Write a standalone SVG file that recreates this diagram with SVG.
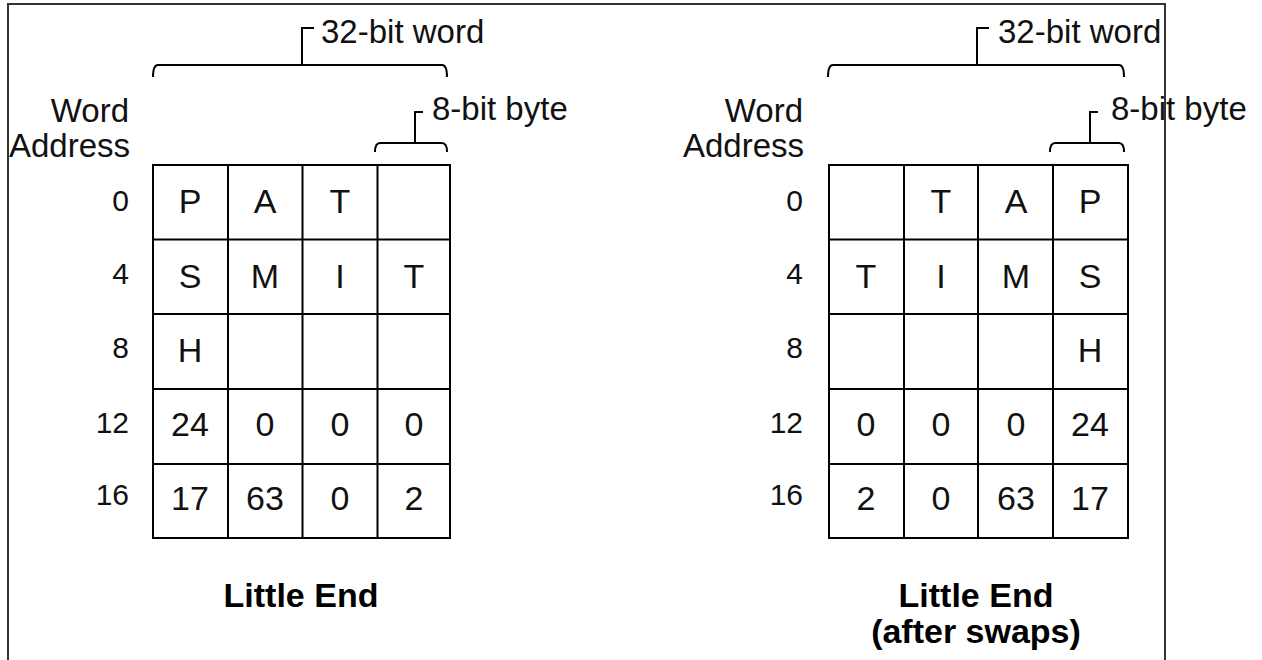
<svg xmlns="http://www.w3.org/2000/svg" width="1262" height="660" viewBox="0 0 1262 660">
<style>
.frame{stroke:#333;stroke-width:2;fill:none}
.grid{stroke:#000;stroke-width:2;fill:none}
.br{stroke:#000;stroke-width:2;fill:none}
.lbl{font-family:"Liberation Sans",Arial,sans-serif;font-size:33px;fill:#111}
.addr{font-family:"Liberation Sans",Arial,sans-serif;font-size:30px;fill:#111;text-anchor:end}
.cell{font-family:"Liberation Sans",Arial,sans-serif;font-size:34px;fill:#111;text-anchor:middle}
.title{font-family:"Liberation Sans",Arial,sans-serif;font-size:34px;font-weight:bold;fill:#000;text-anchor:middle}
</style>
<rect width="1262" height="660" fill="#fff"/>
<g id="frame">
<path class="frame" d="M8,660 L8,4 L1165,4 L1165,660"/>
</g>
<g id="connectors">
<path class="br" d="M153,77 Q153,65 158,65 L442,65 Q447,65 447,77"/>
<path class="br" d="M302,65 L302,28 L314,28"/>
<path class="br" d="M375,152 Q375,143 380,143 L442,143 Q447,143 447,152"/>
<path class="br" d="M415,143 L415,112 L423,112"/>
<path class="br" d="M828,77 Q828,65 833,65 L1119,65 Q1124,65 1124,77"/>
<path class="br" d="M977,65 L977,28 L989,28"/>
<path class="br" d="M1050,152 Q1050,143 1055,143 L1119,143 Q1124,143 1124,152"/>
<path class="br" d="M1090,143 L1090,112 L1098,112"/>
</g>
<g id="left-labels">
<text class="lbl" x="321" y="43">32-bit word</text>
<text class="lbl" x="432" y="120">8-bit byte</text>
<text class="lbl" x="129" y="122" text-anchor="end">Word</text>
<text class="lbl" x="130" y="157" text-anchor="end">Address</text>
</g>
<g id="right-labels">
<text class="lbl" x="998" y="43">32-bit word</text>
<text class="lbl" x="1111" y="120">8-bit byte</text>
<text class="lbl" x="803" y="122" text-anchor="end">Word</text>
<text class="lbl" x="804" y="157" text-anchor="end">Address</text>
</g>
<g id="left-grid">
<rect class="grid" x="153" y="165" width="297" height="373"/>
<path class="grid" d="M228,165 V538 M302.5,165 V538 M377.5,165 V538 M153,239.5 H450 M153,314 H450 M153,389 H450 M153,464 H450"/>
<text class="addr" x="129" y="211">0</text>
<text class="addr" x="129" y="284">4</text>
<text class="addr" x="129" y="358">8</text>
<text class="addr" x="129" y="433">12</text>
<text class="addr" x="129" y="505">16</text>
<text class="cell" x="190" y="213">P</text>
<text class="cell" x="265" y="213">A</text>
<text class="cell" x="340" y="213">T</text>
<text class="cell" x="190" y="288">S</text>
<text class="cell" x="265" y="288">M</text>
<text class="cell" x="340" y="288">I</text>
<text class="cell" x="414" y="288">T</text>
<text class="cell" x="190" y="362">H</text>
<text class="cell" x="190" y="436">24</text>
<text class="cell" x="265" y="436">0</text>
<text class="cell" x="340" y="436">0</text>
<text class="cell" x="414" y="436">0</text>
<text class="cell" x="190" y="510">17</text>
<text class="cell" x="265" y="510">63</text>
<text class="cell" x="340" y="510">0</text>
<text class="cell" x="414" y="510">2</text>
</g>
<g id="right-grid">
<rect class="grid" x="829" y="165" width="299" height="373"/>
<path class="grid" d="M904,165 V538 M978,165 V538 M1053,165 V538 M829,239.5 H1128 M829,314 H1128 M829,389 H1128 M829,464 H1128"/>
<text class="addr" x="803" y="211">0</text>
<text class="addr" x="803" y="284">4</text>
<text class="addr" x="803" y="358">8</text>
<text class="addr" x="803" y="433">12</text>
<text class="addr" x="803" y="505">16</text>
<text class="cell" x="941" y="213">T</text>
<text class="cell" x="1016" y="213">A</text>
<text class="cell" x="1090" y="213">P</text>
<text class="cell" x="866" y="288">T</text>
<text class="cell" x="941" y="288">I</text>
<text class="cell" x="1016" y="288">M</text>
<text class="cell" x="1090" y="288">S</text>
<text class="cell" x="1090" y="362">H</text>
<text class="cell" x="866" y="436">0</text>
<text class="cell" x="941" y="436">0</text>
<text class="cell" x="1016" y="436">0</text>
<text class="cell" x="1090" y="436">24</text>
<text class="cell" x="866" y="510">2</text>
<text class="cell" x="941" y="510">0</text>
<text class="cell" x="1016" y="510">63</text>
<text class="cell" x="1090" y="510">17</text>
</g>
<g id="left-title">
<text class="title" x="301" y="607">Little End</text>
</g>
<g id="right-title">
<text class="title" x="976" y="607">Little End</text>
<text class="title" x="976" y="643">(after swaps)</text>
</g>
</svg>
